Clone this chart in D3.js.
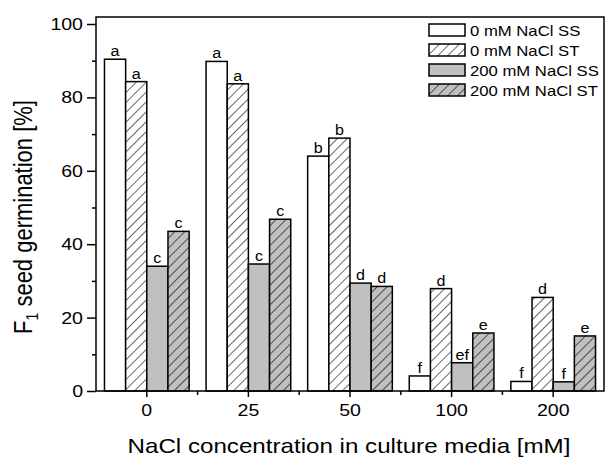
<!DOCTYPE html>
<html>
<head>
<meta charset="utf-8">
<script src="https://cdn.jsdelivr.net/npm/d3@7"></script>
<style>
  body { margin: 0; background: #fff; }
  text { font-family: Arial, "Liberation Sans", sans-serif; fill: #000; }
</style>
</head>
<body>
<div id="chart"></div>
<script>
// Data
const categories = ['0', '25', '50', '100', '200'];
const seriesNames = ['0 mM NaCl SS', '0 mM NaCl ST', '200 mM NaCl SS', '200 mM NaCl ST'];
const ss0 = [90.4, 89.8, 64.0, 4.1, 2.6];
const st0 = [84.3, 83.7, 68.9, 27.9, 25.5];
const ss200 = [34.0, 34.6, 29.4, 7.7, 2.5];
const st200 = [43.5, 46.8, 28.5, 15.8, 15.0];
const letters0ss = ['a', 'a', 'b', 'f', 'f'];
const letters0st = ['a', 'a', 'b', 'd', 'd'];
const letters200ss = ['c', 'c', 'd', 'ef', 'f'];
const letters200st = ['c', 'c', 'd', 'e', 'e'];
const yTicks = [0, 20, 40, 60, 80, 100];
const yMinor = [10, 30, 50, 70, 90];

// Dimensions
const WIDTH = 606;
const HEIGHT = 459;
const PLOT = { LEFT: 96, RIGHT: 604, TOP: 17, BOTTOM: 391 };
// the original text is a bit wider than Arial
const STRETCH = 1.15;

const series = [
  { name: seriesNames[0], values: ss0, letters: letters0ss, fill: '#ffffff', hatch: false },
  { name: seriesNames[1], values: st0, letters: letters0st, fill: '#ffffff', hatch: true },
  { name: seriesNames[2], values: ss200, letters: letters200ss, fill: '#c0c0c0', hatch: false },
  { name: seriesNames[3], values: st200, letters: letters200st, fill: '#c0c0c0', hatch: true }
];

const stretch = (sel) => sel.each(function () {
  const w = this.getComputedTextLength();
  d3.select(this)
    .attr('textLength', w * STRETCH)
    .attr('lengthAdjust', 'spacingAndGlyphs');
});

const svg = d3.select('#chart')
  .append('svg')
  .attr('width', WIDTH)
  .attr('height', HEIGHT);

// Hatch pattern
const defs = svg.append('defs');
defs.append('pattern')
  .attr('id', 'hatch')
  .attr('patternUnits', 'userSpaceOnUse')
  .attr('width', 7)
  .attr('height', 7)
  .attr('patternTransform', 'rotate(45)')
  .append('line')
  .attr('x1', 0).attr('y1', 0)
  .attr('x2', 0).attr('y2', 7)
  .attr('stroke', '#000')
  .attr('stroke-width', 1.2);

const fillOf = (s) => (s.hatch ? 'url(#hatch)' : s.fill);

// Scales
const x = d3.scaleBand().domain(categories).range([PLOT.LEFT, PLOT.RIGHT]);
const inner = d3.scaleBand()
  .domain(d3.range(series.length))
  .range([0, x.bandwidth()])
  .paddingOuter(0.4);
const y = d3.scaleLinear().domain([0, 100]).range([PLOT.BOTTOM, 24]);

// Bars
const groups = svg.selectAll('g.series')
  .data(series)
  .enter()
  .append('g')
  .attr('class', 'series');

groups.each(function (s, si) {
  const g = d3.select(this);
  const rows = categories.map((c, i) => ({ c, v: s.values[i], l: s.letters[i] }));
  if (s.hatch) {
    g.selectAll('rect.bg').data(rows).enter().append('rect')
      .attr('x', (d) => x(d.c) + inner(si))
      .attr('y', (d) => y(d.v))
      .attr('width', inner.bandwidth())
      .attr('height', (d) => y(0) - y(d.v))
      .attr('fill', s.fill);
  }
  g.selectAll('rect.bar').data(rows).enter().append('rect')
    .attr('x', (d) => x(d.c) + inner(si))
    .attr('y', (d) => y(d.v))
    .attr('width', inner.bandwidth())
    .attr('height', (d) => y(0) - y(d.v))
    .attr('fill', fillOf(s))
    .attr('stroke', '#000')
    .attr('stroke-width', 1.5);
  g.selectAll('text').data(rows).enter().append('text')
    .attr('x', (d) => x(d.c) + inner(si) + inner.bandwidth() / 2)
    .attr('y', (d) => y(d.v) - 3)
    .attr('text-anchor', 'middle')
    .attr('font-size', 14)
    .text((d) => d.l)
    .call(stretch);
});

// Frame
svg.append('rect')
  .attr('x', PLOT.LEFT)
  .attr('y', PLOT.TOP)
  .attr('width', PLOT.RIGHT - PLOT.LEFT)
  .attr('height', PLOT.BOTTOM - PLOT.TOP)
  .attr('fill', 'none')
  .attr('stroke', '#000')
  .attr('stroke-width', 1.5);

// Y axis
const yAxis = svg.append('g')
  .attr('transform', `translate(${PLOT.LEFT},0)`)
  .call(d3.axisLeft(y).tickValues(yTicks).tickSize(9).tickSizeOuter(0).tickPadding(4));
yAxis.select('.domain').remove();
yAxis.selectAll('line').attr('stroke-width', 1.5);
yAxis.selectAll('text')
  .attr('font-size', 17)
  .style('font-family', 'Arial, "Liberation Sans", sans-serif')
  .call(stretch);

const yAxisMinor = svg.append('g')
  .attr('transform', `translate(${PLOT.LEFT},0)`)
  .call(d3.axisLeft(y).tickValues(yMinor).tickSize(4).tickFormat(''));
yAxisMinor.select('.domain').remove();
yAxisMinor.selectAll('line').attr('stroke-width', 1.5);

// X axis
const xAxis = svg.append('g')
  .attr('transform', `translate(0,${PLOT.BOTTOM})`)
  .call(d3.axisBottom(x).tickSize(6).tickSizeOuter(0).tickPadding(7));
xAxis.select('.domain').remove();
xAxis.selectAll('line').attr('stroke-width', 1.5);
xAxis.selectAll('text')
  .attr('font-size', 17)
  .style('font-family', 'Arial, "Liberation Sans", sans-serif')
  .call(stretch);

// Minor x ticks at group boundaries
svg.append('g')
  .selectAll('line')
  .data(categories.slice(1))
  .enter()
  .append('line')
  .attr('x1', (d) => x(d))
  .attr('x2', (d) => x(d))
  .attr('y1', PLOT.BOTTOM)
  .attr('y2', PLOT.BOTTOM + 4)
  .attr('stroke', '#000')
  .attr('stroke-width', 1.5);

// Axis titles
svg.append('text')
  .attr('x', 349)
  .attr('y', 453)
  .attr('text-anchor', 'middle')
  .attr('font-size', 21)
  .text('NaCl concentration in culture media [mM]')
  .call(stretch);

const yTitle = svg.append('text')
  .attr('transform', `translate(32,217) scale(${STRETCH},1) rotate(-90)`)
  .attr('text-anchor', 'middle')
  .attr('font-size', 22);
yTitle.append('tspan').text('F');
yTitle.append('tspan').attr('font-size', 14).attr('dy', 5).text('1');
yTitle.append('tspan').attr('dy', -5).text(' seed germination [%]');

// Legend
const legend = svg.append('g').attr('transform', 'translate(429,24)');
const item = legend.selectAll('g')
  .data(series)
  .enter()
  .append('g')
  .attr('transform', (d, i) => `translate(0,${i * 20})`);
item.filter((d) => d.hatch)
  .append('rect')
  .attr('width', 36).attr('height', 12)
  .attr('fill', (d) => d.fill);
item.append('rect')
  .attr('width', 36)
  .attr('height', 12)
  .attr('fill', fillOf)
  .attr('stroke', '#000')
  .attr('stroke-width', 1.5);
item.append('text')
  .attr('x', 41)
  .attr('y', 11.5)
  .attr('font-size', 14.5)
  .text((d) => d.name)
  .call(stretch);
</script>
</body>
</html>
